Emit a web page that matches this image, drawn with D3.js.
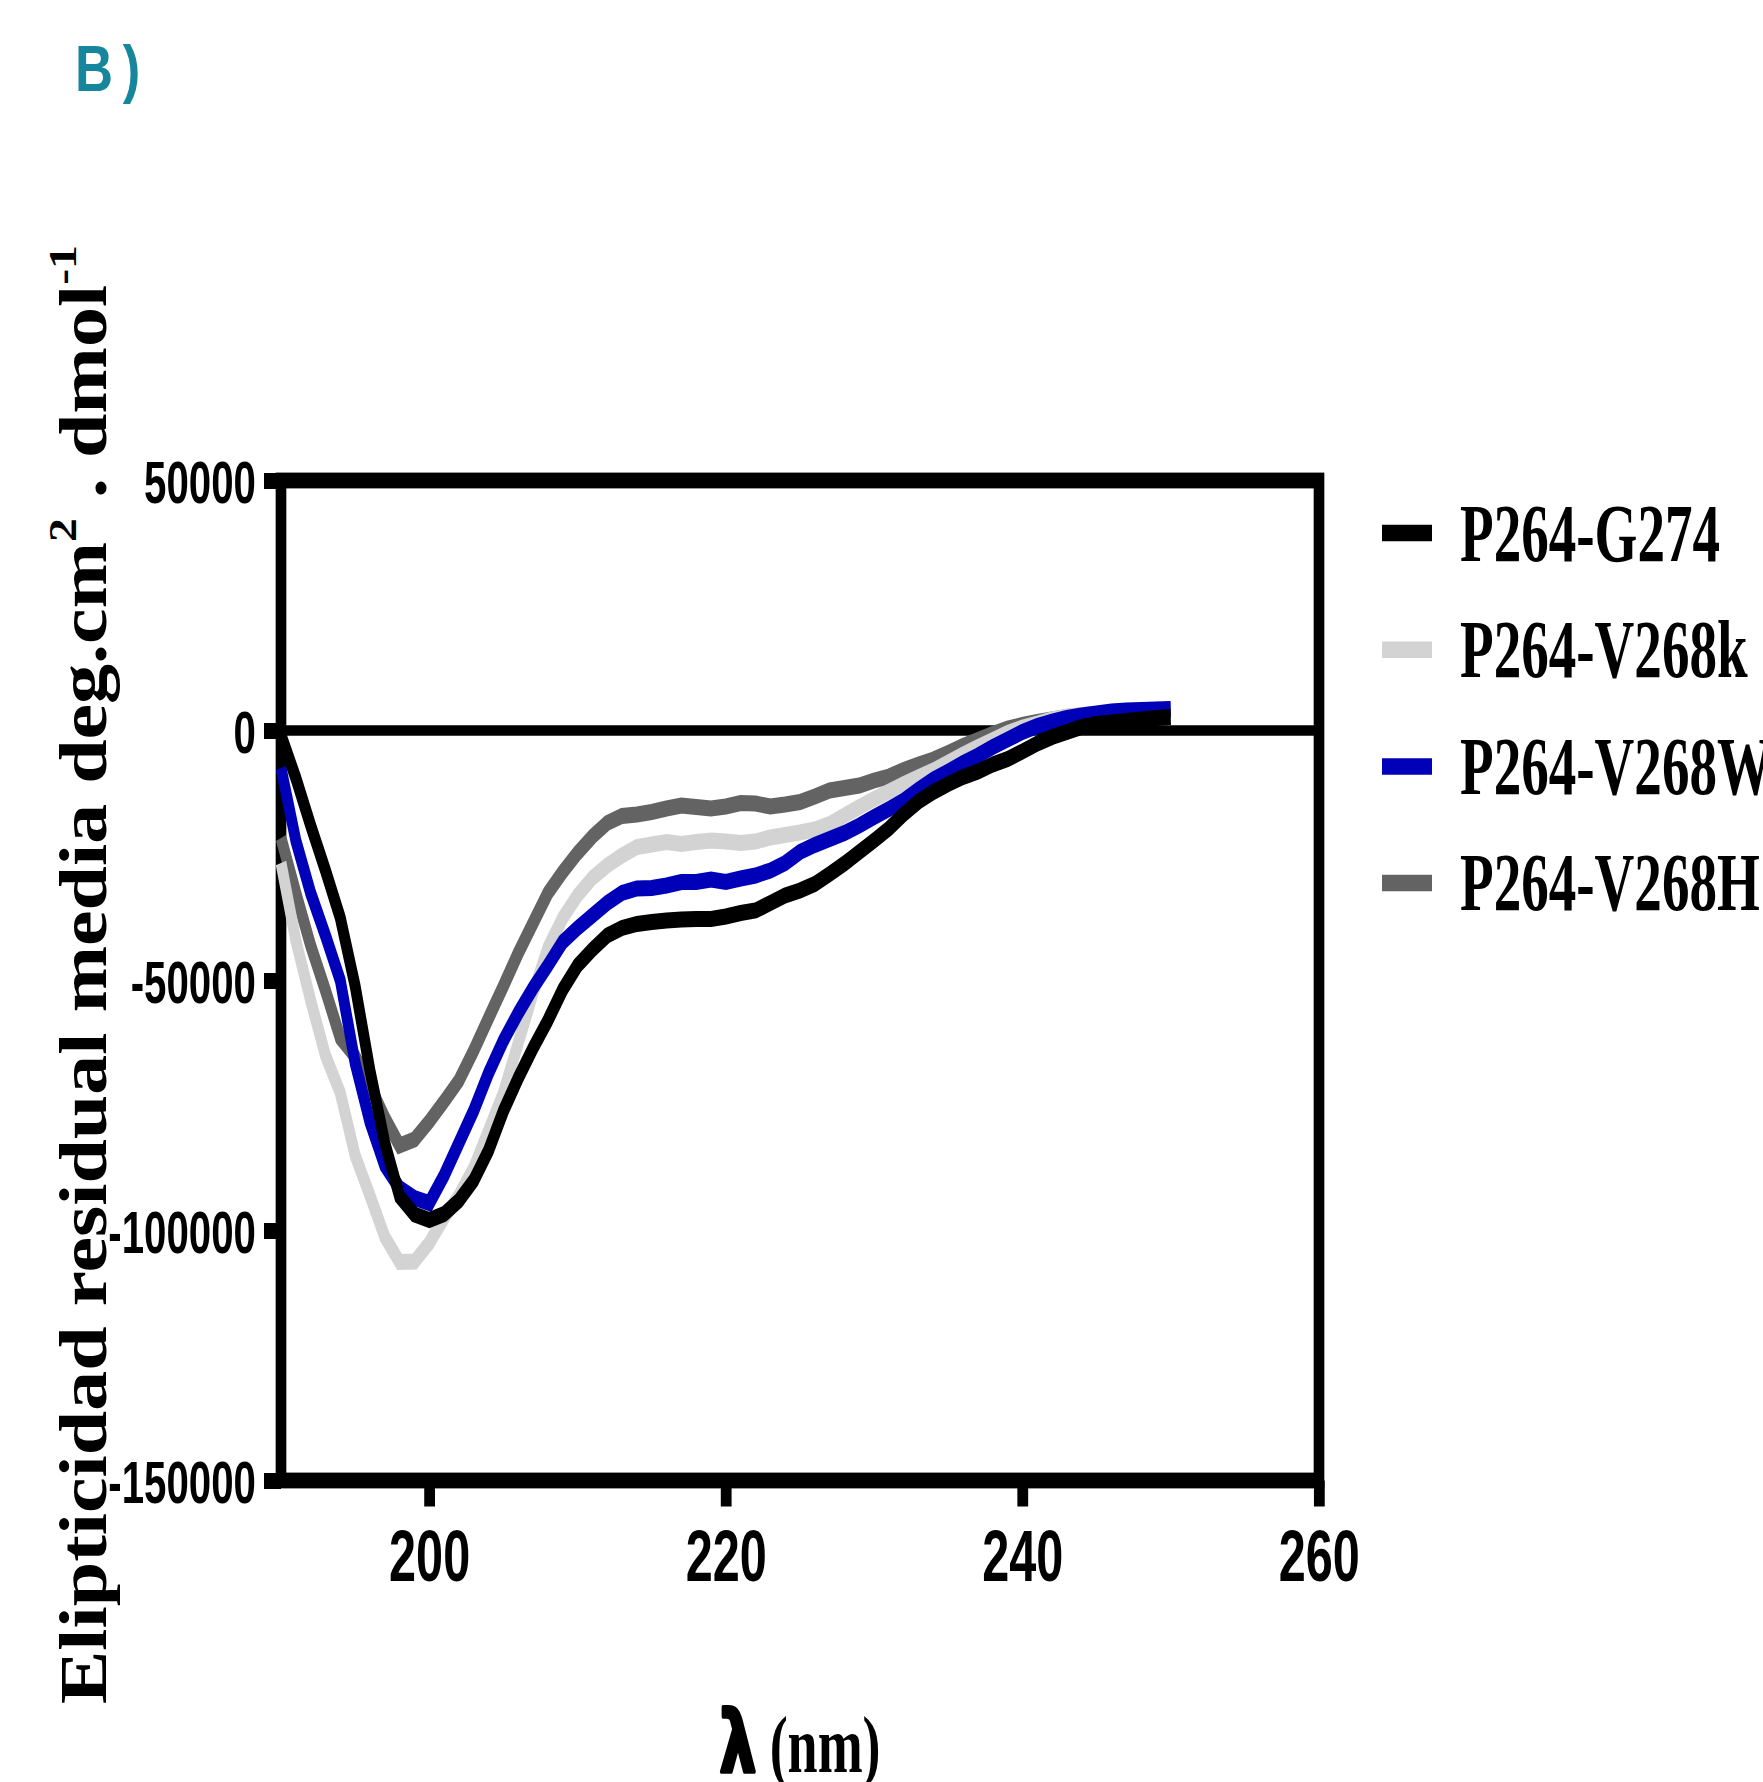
<!DOCTYPE html>
<html>
<head>
<meta charset="utf-8">
<script src="https://cdn.jsdelivr.net/npm/d3@7"></script>
<style>
  body { margin: 0; background: #fff; }
</style>
</head>
<body>
<svg id="chart" width="1763" height="1782"></svg>
<script>
// wavelength (nm) and mean residue ellipticity for each peptide
const wavelength = [190,191,192,193,194,195,196,197,198,199,200,201,202,203,204,205,206,207,208,209,
  210,211,212,213,214,215,216,217,218,219,220,221,222,223,224,225,226,227,228,229,
  230,231,232,233,234,235,236,237,238,239,240,241,242,243,244,245,246,247,248,249,250];

const g274 = [-1000,-9500,-19000,-28000,-37500,-51100,-68000,-82500,-93200,-96800,-97900,-96700,-94000,-90000,-84000,-76100,-69500,-63500,-58000,-51800,
  -47000,-43800,-41000,-39500,-38700,-38300,-38000,-37800,-37700,-37700,-37200,-36500,-36000,-34500,-33000,-32000,-30700,-28700,-26600,-24300,
  -22000,-19600,-16700,-14200,-12300,-10700,-9300,-8200,-6800,-5700,-4200,-2600,-1300,-300,700,1300,1600,1900,2200,2500,2700];

const v268k = [-26500,-42000,-54000,-65000,-72500,-85000,-93000,-101300,-106300,-106200,-102500,-97500,-93000,-87500,-80000,-72500,-62500,-52500,-43500,-37500,
  -33000,-29500,-27000,-25000,-23300,-22800,-22300,-22700,-22300,-22000,-22200,-22500,-22200,-21400,-20900,-20400,-19800,-18700,-17000,-15300,
  -13700,-12200,-10700,-9300,-8000,-6400,-4800,-3300,-1900,-500,600,1400,2200,2800,3100,3300,3500,3700,3900,4100,4200];

const v268w = [-7500,-22000,-32500,-41000,-50000,-66500,-78300,-87000,-91500,-93500,-94500,-89000,-82500,-76000,-68500,-62000,-56500,-51500,-47000,-42300,
  -39500,-37000,-34500,-32500,-31600,-31500,-31000,-30300,-30300,-29800,-30300,-29600,-29000,-28000,-26500,-24300,-22900,-21700,-20500,-19000,
  -17300,-15700,-14000,-11800,-9800,-8200,-6500,-5000,-3300,-1800,-300,900,1800,2500,3000,3400,3800,4000,4100,4200,4300];

const v268h = [-21500,-32500,-43000,-52000,-61500,-65200,-71100,-77500,-83000,-81800,-78200,-74200,-70000,-64000,-57500,-51100,-44500,-38500,-32500,-28300,
  -24500,-21200,-18500,-17100,-16800,-16300,-15600,-15000,-15300,-15600,-15200,-14500,-14600,-15200,-14800,-14300,-13200,-12000,-11500,-11000,
  -10000,-9200,-7900,-6800,-5800,-4500,-3100,-1900,-700,400,1100,1700,2200,2700,3000,3200,3400,3600,3800,3900,4000];

const seriesNames = ["P264-G274", "P264-V268k", "P264-V268W", "P264-V268H"];
const seriesValues = [g274, v268k, v268w, v268h];
const seriesColors = ["#000000", "#d3d3d3", "#0000b8", "#636363"];
const drawOrder = [3, 1, 2, 0];

const xTicks = [200, 220, 240, 260];
const yTicks = [50000, 0, -50000, -100000, -150000];

// the whole figure is squeezed horizontally, so draw it in a scaled group
const sx = 0.675;
const plotLeft = 281, plotRight = 1319, plotTop = 480.5, plotBottom = 1480.5;

const svg = d3.select("#chart");

const x = d3.scaleLinear().domain([190, 260]).range([plotLeft / sx, plotRight / sx]);
const y = d3.scaleLinear().domain([-150000, 50000]).range([plotBottom, plotTop]);

const g = svg.append("g").attr("transform", `scale(${sx},1)`);

// y axis ticks + labels
const yAxis = g.append("g")
  .attr("transform", `translate(${x(190)},0)`)
  .call(d3.axisLeft(y).tickValues(yTicks).tickSize(17 / sx).tickPadding(12).tickFormat(d => String(d)));
yAxis.select(".domain").remove();
yAxis.selectAll(".tick line").attr("stroke", "#000").attr("stroke-width", 16);
yAxis.selectAll(".tick text")
  .attr("fill", "#000")
  .attr("dy", "0.37em")
  .style("font-family", "'Liberation Sans', Arial, sans-serif")
  .style("font-weight", "bold")
  .style("font-size", "59.6px");

// x axis ticks + labels
const xAxis = g.append("g")
  .attr("transform", `translate(0,${plotBottom})`)
  .call(d3.axisBottom(x).tickValues(xTicks).tickSize(26).tickFormat(d => String(d)));
xAxis.select(".domain").remove();
xAxis.selectAll(".tick line").attr("stroke", "#000").attr("stroke-width", 16);
xAxis.selectAll(".tick text")
  .attr("fill", "#000")
  .attr("y", 101)
  .attr("dy", 0)
  .style("font-family", "'Liberation Sans', Arial, sans-serif")
  .style("font-weight", "bold")
  .style("font-size", "72px");

// frame
g.append("rect")
  .attr("x", x(190)).attr("y", y(50000))
  .attr("width", x(260) - x(190)).attr("height", y(-150000) - y(50000))
  .attr("fill", "none").attr("stroke", "#000").attr("stroke-width", 15.8);

// zero line
g.append("line")
  .attr("x1", x(190)).attr("x2", x(260))
  .attr("y1", y(0)).attr("y2", y(0))
  .attr("stroke", "#000").attr("stroke-width", 10.7);

// curves
const line = d3.line()
  .x((d, i) => x(wavelength[i]))
  .y(d => y(d));

drawOrder.forEach(k => {
  g.append("path")
    .datum(seriesValues[k])
    .attr("d", line)
    .attr("fill", "none")
    .attr("stroke", seriesColors[k])
    .attr("stroke-width", 16)
    .attr("stroke-linejoin", "miter")
    .attr("stroke-miterlimit", 3)
    .attr("stroke-linecap", "butt");
});

// legend
const legend = g.append("g");
seriesNames.forEach((name, i) => {
  legend.append("line")
    .attr("x1", 1382 / sx).attr("x2", 1432 / sx)
    .attr("y1", 533 + i * 116.7).attr("y2", 533 + i * 116.7)
    .attr("stroke", seriesColors[i]).attr("stroke-width", 16.5);
  legend.append("text")
    .attr("x", 1460 / sx).attr("y", 560.7 + i * 116.5)
    .style("font-family", "'Liberation Serif', 'Times New Roman', serif")
    .style("font-weight", "bold")
    .style("font-size", "81.6px")
    .text(name);
});

// x title
const xt = g.append("text")
  .attr("x", 800 / sx).attr("y", 1771.7)
  .attr("text-anchor", "middle")
  .style("font-family", "'Liberation Serif', 'Times New Roman', serif")
  .style("font-weight", "bold")
  .style("font-size", "80px");
xt.append("tspan")
  .style("font-family", "'DejaVu Sans', sans-serif")
  .style("font-size", "86px")
  .attr("stroke", "#000").attr("stroke-width", 4).attr("stroke-linejoin", "round")
  .text("λ");
xt.append("tspan").text(" (nm)");

// y title, rotated, stretched to its length in the picture
const yt = svg.append("text")
  .style("font-family", "'Liberation Serif', 'Times New Roman', serif")
  .style("font-weight", "bold")
  .style("font-size", "67px");
yt.append("tspan").text("Elipticidad residual media deg.cm");
yt.append("tspan").attr("dy", -30).style("font-size", "40px").text("2");
yt.append("tspan").attr("dy", 30).text("  .  dmol");
yt.append("tspan").attr("dy", -30).style("font-size", "40px").text("-1");
const ytLen = yt.node().getComputedTextLength();
yt.attr("transform", `translate(106,1704) rotate(-90) scale(${1459 / ytLen},1)`);

// panel letter
const panel = svg.append("text")
  .attr("transform", "translate(75,91) scale(0.81,1)")
  .attr("fill", "#16869c")
  .style("font-family", "'Liberation Sans', Arial, sans-serif")
  .style("font-weight", "bold")
  .style("font-size", "65px");
panel.append("tspan").text("B");
panel.append("tspan").attr("dx", 12).text(")");
</script>
</body>
</html>
